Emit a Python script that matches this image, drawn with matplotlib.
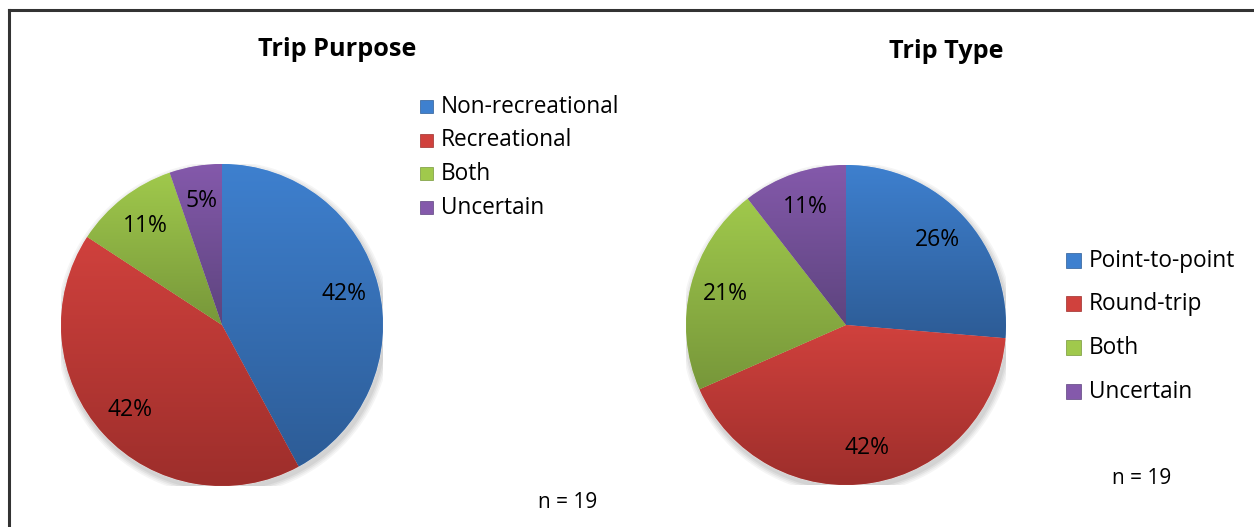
import numpy as np
import matplotlib
matplotlib.use("Agg")
import matplotlib.pyplot as plt
from matplotlib.colors import LinearSegmentedColormap
from matplotlib.lines import Line2D
from matplotlib.patches import Circle, Rectangle

plt.rcParams['font.family'] = ['Open Sans', 'DejaVu Sans']

# survey answers (counts, n = 19)
purpose_labels = ["Non-recreational", "Recreational", "Both", "Uncertain"]
purpose_counts = [8, 8, 2, 1]
type_labels = ["Point-to-point", "Round-trip", "Both", "Uncertain"]
type_counts = [5, 8, 4, 2]

# light (top) / dark (bottom) shade of each slice
tops = ["#3e80cf", "#d0413d", "#a0c94c", "#8459ab"]
bottoms = ["#2d5c96", "#9d2e2b", "#77973a", "#5d447e"]

W, H = 1254, 527
fig = plt.figure(figsize=(W / 100, H / 100), dpi=100)


def px_axes(cx, cy, r):
    return fig.add_axes([(cx - r) / W, (H - cy - r) / H, 2 * r / W, 2 * r / H])


def shaded_pie(ax, counts):
    # soft shadow under the pie
    for i, a in enumerate([0.04, 0.04, 0.05, 0.05]):
        ax.add_patch(Circle((0.01, -0.022), 1.0 + 0.01 * (4 - i), color="black",
                            alpha=a, lw=0, zorder=0))
    wedges, texts, autotexts = ax.pie(counts, startangle=90, counterclock=False,
                                      colors=tops, radius=1.0,
                                      autopct=lambda p: "%.0f%%" % p, pctdistance=0.78,
                                      wedgeprops=dict(linewidth=0.6, edgecolor="#ffffff80"),
                                      textprops=dict(fontsize=16.5, color="black"))
    grad = np.linspace(1, 0, 256).reshape(-1, 1)
    for w, t, b in zip(wedges, tops, bottoms):
        ext = w.get_path().get_extents()
        y0, y1 = max(ext.y0, -1), min(ext.y1, 1)
        cmap = LinearSegmentedColormap.from_list("g", [b, t])
        im = ax.imshow(grad, cmap=cmap, extent=[-1.05, 1.05, y0, y1], aspect="auto",
                       zorder=1.5, interpolation="bilinear")
        im.set_clip_path(w)
    for at in autotexts:
        at.set_zorder(3)
    ax.set_xlim(-1.0, 1.0)
    ax.set_ylim(-1.0, 1.0)
    ax.set_aspect("equal")
    ax.axis("off")


ax1 = px_axes(222, 325, 161)
shaded_pie(ax1, purpose_counts)
ax2 = px_axes(846, 325, 160)
shaded_pie(ax2, type_counts)

fig.text(337 / W, 1 - 50 / H, "Trip Purpose", fontsize=18.2, fontweight="bold",
         ha="center", va="center")
fig.text(946 / W, 1 - 52 / H, "Trip Type", fontsize=18.2, fontweight="bold",
         ha="center", va="center")


def legend(x_sq, x_txt, ys, labels, sq):
    for y, lab, c, b in zip(ys, labels, tops, bottoms):
        fig.patches.append(Rectangle(((x_sq) / W, 1 - (y + 1 + sq / 2) / H), sq / W, sq / H,
                                     transform=fig.transFigure, facecolor=c,
                                     edgecolor=b, lw=0.5))
        fig.text(x_txt / W, 1 - (y + 1.5) / H, lab, fontsize=16.3, ha="left", va="center")


legend(420, 441, [105, 139, 172, 206], purpose_labels, 13)
legend(1066, 1089, [259, 302, 346, 390], type_labels, 15)

fig.text(568 / W, 1 - 503 / H, "n = 19", fontsize=15, ha="center", va="center")
fig.text(1142 / W, 1 - 479 / H, "n = 19", fontsize=15, ha="center", va="center")

# frame line at top and left
fig.add_artist(Line2D([9 / W, 1], [1 - 10 / H, 1 - 10 / H], color="#333333", lw=2.2))
fig.add_artist(Line2D([9 / W, 9 / W], [0, 1 - 10 / H], color="#333333", lw=2.2))

fig.savefig("out.png", dpi=100)
